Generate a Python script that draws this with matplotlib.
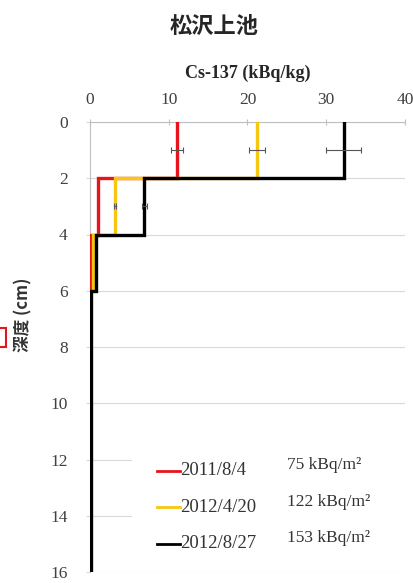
import matplotlib
matplotlib.use("Agg")
import matplotlib.pyplot as plt
from matplotlib.patches import Rectangle

# ---- data ----
boundaries = [0, 2, 4, 6, 16]
series_labels = ["2011/8/4", "2012/4/20", "2012/8/27"]
inventory_labels = ["75 kBq/m²", "122 kBq/m²", "153 kBq/m²"]
colors = ["#e8141c", "#f5c710", "#000000"]
red_vals = [11.0, 1.0, 0.05]
yellow_vals = [21.2, 3.2, 0.35]
black_vals = [32.2, 6.9, 0.75, 0.1]
# error bars (depth midpoint, value, xerr)
err_depth = [1, 1, 1, 3, 3]
err_val = [11.0, 21.2, 32.2, 3.2, 6.9]
err_x = [0.75, 1.0, 2.2, 0.15, 0.35]
xticks = [0, 10, 20, 30, 40]
yticks = [0, 2, 4, 6, 8, 10, 12, 14, 16]

fig = plt.figure(figsize=(4.14, 5.83), dpi=100)
ax = fig.add_axes([90/414, 1-572/583, 315/414, (572-122)/583])

def profile(vals):
    xs, ys = [], []
    for i, v in enumerate(vals):
        xs += [v, v]
        ys += [boundaries[i], boundaries[i+1]]
    return xs, ys

for vals, c in zip([red_vals, yellow_vals, black_vals], colors):
    xs, ys = profile(vals)
    ax.plot(xs, ys, color=c, lw=2.4, solid_joinstyle="miter", zorder=3)

ax.errorbar(err_val, err_depth, xerr=err_x, fmt="none", ecolor="#555555",
            elinewidth=0.8, capsize=2, capthick=0.8, zorder=4)

ax.set_xlim(0, 40)
ax.set_ylim(16, 0)
ax.xaxis.tick_top()
ax.xaxis.set_label_position("top")
ax.set_xticks(xticks)
ax.set_yticks(yticks)
ax.grid(axis="y", color="#d9d9d9", lw=0.8, zorder=0)
for s in ["right", "bottom"]:
    ax.spines[s].set_visible(False)
for s in ["top", "left"]:
    ax.spines[s].set_color("#bfbfbf")
    ax.spines[s].set_linewidth(0.8)
ax.tick_params(axis="x", direction="inout", length=4, color="#bfbfbf", pad=8,
               labelsize=12.5)
ax.tick_params(axis="y", direction="out", length=3, color="#d9d9d9", pad=13,
               labelsize=12.5)
for lab in ax.get_xticklabels() + ax.get_yticklabels():
    lab.set_fontfamily("Liberation Serif")
    lab.set_color("#404040")

ax.set_xlabel("Cs-137 (kBq/kg)", fontfamily="Liberation Serif", fontweight="bold",
              fontsize=13, labelpad=10, color="#262626")

# legend area
ax.add_patch(Rectangle((5.3, 11.4), 34.7, 4.1, facecolor="white", edgecolor="none",
                       zorder=2))
row_y = [12.4, 13.7, 15.0]
val_y = [12.2, 13.5, 14.8]
for lbl, inv, c, yy, vy in zip(series_labels, inventory_labels, colors, row_y, val_y):
    ax.plot([8.5, 11.4], [yy, yy], color=c, lw=2.0, zorder=3)
    ax.text(11.4, yy, lbl, fontfamily="Liberation Serif", fontsize=13.5,
            va="center", ha="left", color="#333333", zorder=3)
    ax.text(25.0, vy, inv, fontfamily="Liberation Serif", fontsize=12.5,
            va="center", ha="left", color="#333333", zorder=3)

fig.text(214/414, 1-26/583, "松沢上池", fontfamily="Noto Sans CJK JP",
         fontweight="bold", fontsize=16, ha="center", va="center", color="#262626")
fig.text(23/414, 1-315/583, "深度 (cm)", fontfamily=["Noto Sans CJK JP", "DejaVu Sans"],
         fontweight="bold", fontsize=12, rotation=90, ha="center", va="center",
         color="#333333")
fig.patches.append(Rectangle((-4/414, 1-347/583), 10/414, 19/583,
                             transform=fig.transFigure, facecolor="none",
                             edgecolor="#e8141c", lw=1.5))

fig.savefig("out.png", dpi=100)
